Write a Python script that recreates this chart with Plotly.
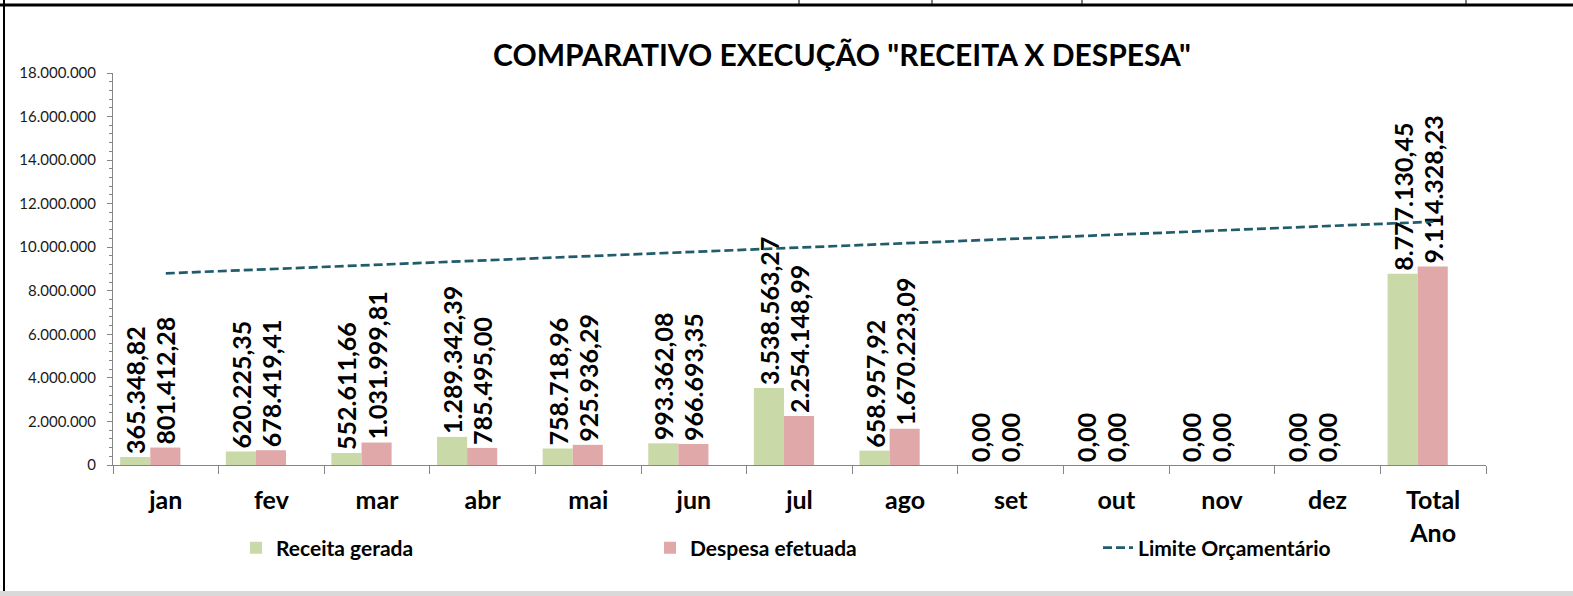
import plotly.graph_objects as go

categories = ["jan", "fev", "mar", "abr", "mai", "jun", "jul", "ago", "set", "out", "nov", "dez", "Total<br>Ano"]
receita = [365348.82, 620225.35, 552611.66, 1289342.39, 758718.96, 993362.08, 3538563.27, 658957.92, 0, 0, 0, 0, 8777130.45]
despesa = [801412.28, 678419.41, 1031999.81, 785495.00, 925936.29, 966693.35, 2254148.99, 1670223.09, 0, 0, 0, 0, 9114328.23]
limite = [8800000, 9000000, 9190000, 9390000, 9590000, 9780000, 9980000, 10180000, 10380000, 10570000, 10770000, 10970000, 11170000]
y_ticks = [0, 2000000, 4000000, 6000000, 8000000, 10000000, 12000000, 14000000, 16000000, 18000000]

W, H = 1573, 596
ML, MR, MT, MB = 113, 87, 73, 131
PW, PH = W - ML - MR, H - MT - MB

def px(x):
    return (x - ML) / PW

def py(y):
    return (H - MB - y) / PH

FONT = "Lato"
lbl_font = dict(family=FONT, size=25, color="black", weight="bold")

fig = go.Figure()
fig.add_trace(go.Bar(
    x=categories, y=receita, name="Receita gerada",
    marker=dict(color="#C9D9A7", line=dict(width=0)),
    width=0.285, offset=-0.432,
    texttemplate="%{y:,.2f}", textposition="outside", textangle=-90,
    textfont=lbl_font, constraintext="none", cliponaxis=False,
    legend="legend",
))
fig.add_trace(go.Bar(
    x=categories, y=despesa, name="Despesa efetuada",
    marker=dict(color="#E0A8A8", line=dict(width=0)),
    width=0.285, offset=-0.147,
    texttemplate="%{y:,.2f}", textposition="outside", textangle=-90,
    textfont=lbl_font, constraintext="none", cliponaxis=False,
    legend="legend2",
))
fig.add_trace(go.Scatter(
    x=categories, y=limite, name="Limite Orçamentário", mode="lines",
    line=dict(color="#215C6B", width=2.7, dash="9px,4px"),
    legend="legend3",
))

leg_common = dict(orientation="h", bgcolor="rgba(0,0,0,0)", yanchor="middle", xanchor="left",
                  font=dict(family=FONT, size=21, color="black", weight="bold"),
                  xref="paper", yref="paper")

shapes = [
    dict(type="rect", xref="paper", yref="paper", x0=px(0), x1=px(W), y0=py(H + 4), y1=py(591),
         fillcolor="#D9D9D9", line=dict(width=0), layer="below"),
    dict(type="line", xref="paper", yref="paper", x0=px(0), x1=px(W), y0=py(5), y1=py(5),
         line=dict(color="black", width=3)),
    dict(type="line", xref="paper", yref="paper", x0=px(4), x1=px(4), y0=py(0), y1=py(591),
         line=dict(color="black", width=2)),
]
for xv in [799, 932, 1082, 1466]:
    shapes.append(dict(type="line", xref="paper", yref="paper", x0=px(xv), x1=px(xv), y0=py(0), y1=py(4),
                       line=dict(color="black", width=1)))

fig.update_layout(
    width=W, height=H,
    margin=dict(l=ML, r=MR, t=MT, b=MB),
    paper_bgcolor="white", plot_bgcolor="white",
    separators=",.",
    barmode="group",
    showlegend=True,
    title=dict(text='COMPARATIVO EXECUÇÃO "RECEITA X DESPESA"', x=px(842), xref="paper", xanchor="center",
               y=1 - 55 / H, yref="container", yanchor="middle",
               font=dict(family=FONT, size=30, color="black", weight="bold")),
    xaxis=dict(type="category", range=[-0.5, 12.5], showline=True, linecolor="#868686", linewidth=1,
               ticks="outside", tickson="boundaries", ticklen=8, tickcolor="#868686",
               tickfont=dict(family=FONT, size=25, color="black", weight="bold"),
               ticklabelstandoff=13,
               showgrid=False, zeroline=False),
    yaxis=dict(range=[0, 18000000], tickvals=y_ticks, tickformat=",d", showline=True, linecolor="#868686",
               linewidth=1, ticks="outside", ticklen=5, tickcolor="#868686",
               tickfont=dict(family=FONT, size=15, color="#1a1a1a"),
               ticklabelstandoff=8,
               minor=dict(dtick=400000, ticks="outside", ticklen=3, tickcolor="#868686"),
               showgrid=False, zeroline=False),
    legend=dict(x=px(236), y=py(548), **leg_common),
    legend2=dict(x=px(650), y=py(548), **leg_common),
    legend3=dict(x=px(1098), y=py(548), **leg_common),
    shapes=shapes,
)

fig.write_html("out.html",
               config={"displayModeBar": False},
               post_script="document.body.style.margin='0';document.body.style.padding='0';document.body.style.overflow='hidden';")
